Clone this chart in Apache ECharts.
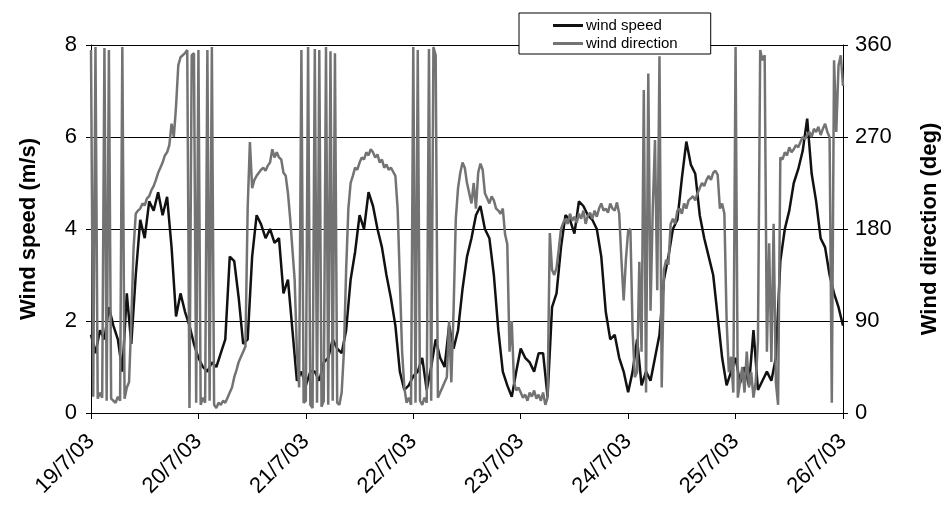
<!DOCTYPE html>
<html>
<head>
<meta charset="utf-8">
<script src="https://cdn.jsdelivr.net/npm/echarts@6/dist/echarts.min.js"></script>
<style>
  body { margin: 0; background: #fff; }
  #windChart { width: 943px; height: 506px; }
</style>
</head>
<body>
<div id="windChart"></div>
<script>
// day labels on the x axis, one per 24 h
const dateLabels = ["19/7/03", "20/7/03", "21/7/03", "22/7/03", "23/7/03", "24/7/03", "25/7/03", "26/7/03"];

// wind speed (m/s), hourly
const windSpeed = [
  1.7, 1.3, 1.8, 1.6, 2.3, 1.9, 1.6, 0.9, 2.6, 1.5, 3.0, 4.2, 3.8, 4.6, 4.4, 4.8, 4.3, 4.7, 3.6, 2.1, 2.6, 2.2, 1.9, 1.5,
  1.2, 1.0, 0.9, 1.1, 1.0, 1.3, 1.6, 3.4, 3.3, 2.5, 1.5, 1.6, 3.4, 4.3, 4.1, 3.8, 4.0, 3.7, 3.8, 2.6, 2.9, 1.8, 0.7, 0.9,
  0.6, 0.9, 0.9, 0.7, 1.1, 1.2, 1.6, 1.4, 1.3, 1.8, 2.9, 3.5, 4.3, 4.0, 4.8, 4.5, 4.0, 3.6, 3.0, 2.5, 1.9, 0.9, 0.5, 0.6,
  0.8, 0.9, 1.2, 0.5, 1.0, 1.6, 1.2, 1.0, 1.9, 1.4, 1.8, 2.7, 3.4, 3.8, 4.3, 4.5, 4.0, 3.8, 3.0, 1.8, 0.9, 0.6, 0.35, 0.9,
  1.4, 1.2, 1.1, 0.9, 1.3, 1.3, 0.35, 2.3, 2.6, 3.6, 4.3, 4.2, 3.9, 4.6, 4.5, 4.3, 4.2, 4.0, 3.4, 2.2, 1.6, 1.7, 1.2, 0.9,
  0.45, 0.9, 1.6, 0.6, 0.9, 0.7, 1.2, 1.7, 2.9, 3.4, 4.0, 4.2, 5.1, 5.9, 5.4, 5.2, 4.3, 3.8, 3.4, 3.0, 2.1, 1.2, 0.6, 0.9,
  1.2, 0.65, 1.0, 0.6, 1.8, 0.5, 0.7, 0.9, 0.7, 1.2, 3.3, 4.0, 4.4, 5.0, 5.3, 5.7, 6.4, 5.2, 4.6, 3.8, 3.6, 3.0, 2.6, 2.3,
  1.9
];

// wind direction (deg), every half hour
const windDirection = [
  355, 16, 358, 14, 20, 15, 357, 12, 355, 14, 12, 10, 16, 12, 358, 14, 25, 30, 90, 160, 195, 198, 200, 205,
  203, 210, 212, 218, 222, 228, 235, 240, 245, 252, 255, 262, 283, 270, 300, 340, 348, 350, 352, 355, 5, 350, 352, 10,
  355, 8, 15, 10, 355, 12, 358, 8, 5, 10, 8, 12, 10, 15, 20, 25, 35, 42, 50, 55, 60, 65, 200, 265,
  220, 228, 232, 235, 238, 240, 237, 242, 245, 258, 250, 255, 250, 248, 235, 232, 215, 190, 160, 130, 60, 25, 355, 10,
  12, 358, 8, 5, 356, 10, 355, 6, 12, 358, 8, 354, 12, 352, 10, 8, 20, 60, 140, 200, 225, 232, 240, 238,
  245, 250, 248, 255, 252, 258, 255, 250, 253, 245, 248, 240, 243, 238, 240, 236, 232, 200, 130, 60, 25, 10, 15, 8,
  358, 10, 355, 12, 8, 15, 10, 356, 12, 358, 350, 15, 20, 25, 30, 35, 90, 30, 100, 190, 220, 235, 245, 240,
  225, 215, 205, 225, 200, 235, 244, 238, 215, 210, 205, 212, 208, 200, 198, 195, 200, 175, 165, 60, 90, 30, 22, 25,
  20, 15, 18, 12, 20, 16, 22, 14, 18, 12, 20, 8, 15, 176, 140, 135, 142, 160, 180, 186, 190, 185, 195, 188,
  192, 186, 195, 190, 198, 185, 193, 196, 190, 198, 192, 200, 205, 198, 200, 196, 205, 200, 198, 206, 195, 150, 110, 150,
  178, 180, 80, 35, 40, 148, 60, 316, 20, 332, 100, 200, 267, 120, 349, 25, 140, 150, 145, 185, 190, 185, 198, 200,
  195, 205, 200, 208, 210, 212, 208, 215, 220, 225, 222, 228, 232, 228, 235, 237, 233, 200, 205, 195, 90, 40, 55, 20,
  358, 15, 30, 45, 20, 60, 25, 40, 15, 30, 70, 355, 345, 350, 60, 166, 50, 185, 30, 8, 250, 248, 255, 252,
  260, 255, 258, 262, 260, 265, 270, 268, 272, 275, 270, 278, 275, 280, 272, 278, 283, 275, 270, 10, 345, 275, 340, 350,
  320
];

const font = "'Liberation Sans', Arial, sans-serif";

const chart = echarts.init(document.getElementById("windChart"));
chart.setOption({
  animation: false,
  textStyle: { fontFamily: font },
  grid: { left: 91, right: 100, top: 45, bottom: 93, outerBoundsMode: "none" },
  legend: {
    orient: "vertical",
    left: 519,
    top: 13,
    padding: [5, 33, 3, 34],
    itemGap: 3,
    itemWidth: 30,
    itemHeight: 3,
    icon: "rect",
    backgroundColor: "#fff",
    borderColor: "#000",
    borderWidth: 1,
    textStyle: { fontSize: 15, color: "#000", lineHeight: 15, padding: [0, 0, 0, -2] },
    data: ["wind speed", "wind direction"]
  },
  xAxis: {
    type: "value",
    min: 0,
    max: 168,
    interval: 24,
    axisLine: { lineStyle: { color: "#000", width: 1 } },
    axisTick: { length: 6, lineStyle: { color: "#000" } },
    splitLine: { show: false },
    axisLabel: {
      rotate: 45,
      fontSize: 22,
      color: "#000",
      margin: 25,
      formatter: v => dateLabels[v / 24]
    }
  },
  yAxis: [
    {
      type: "value",
      min: 0,
      max: 8,
      interval: 2,
      name: "Wind speed (m/s)",
      nameLocation: "middle",
      nameGap: 51,
      nameTextStyle: { fontSize: 22, fontWeight: "bold", color: "#000" },
      axisLine: { show: true, lineStyle: { color: "#000" } },
      axisTick: { show: true, length: 5, lineStyle: { color: "#000" } },
      axisLabel: { fontSize: 22, color: "#000", margin: 14 },
      splitLine: { show: true, lineStyle: { color: "#000", width: 1 } }
    },
    {
      type: "value",
      min: 0,
      max: 360,
      interval: 90,
      name: "Wind direction (deg)",
      nameLocation: "middle",
      nameGap: 76,
      nameTextStyle: { fontSize: 22, fontWeight: "bold", color: "#000" },
      axisLine: { show: true, lineStyle: { color: "#000" } },
      axisTick: { show: true, length: 5, lineStyle: { color: "#000" } },
      axisLabel: { fontSize: 22, color: "#000", margin: 12 },
      splitLine: { show: false }
    }
  ],
  series: [
    {
      name: "wind speed",
      type: "line",
      yAxisIndex: 0,
      showSymbol: false,
      color: "#111",
      lineStyle: { color: "#111", width: 2.5 },
      data: windSpeed.map((v, i) => [i, v])
    },
    {
      name: "wind direction",
      type: "line",
      yAxisIndex: 1,
      showSymbol: false,
      color: "#737373",
      lineStyle: { color: "#737373", width: 2.5 },
      data: windDirection.map((v, i) => [i / 2, v])
    }
  ]
});
</script>
</body>
</html>
